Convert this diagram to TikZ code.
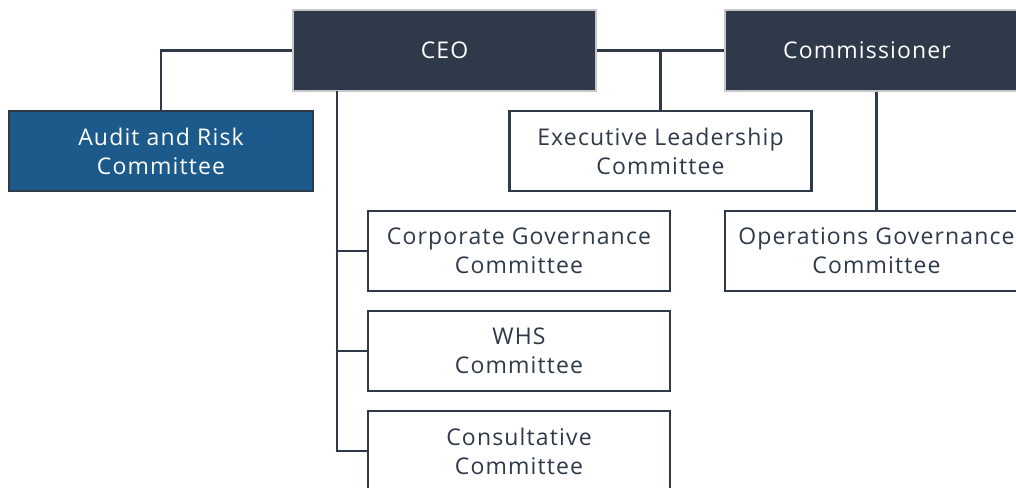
\documentclass[tikz,border=0pt]{standalone}
\usepackage{fontspec}
\setmainfont[LetterSpace=5]{Open Sans}
\definecolor{slate}{HTML}{2E3949}
\definecolor{steelblue}{HTML}{1C5A8C}
\definecolor{edgegrey}{HTML}{C6C6CB}
\begin{document}
\begin{tikzpicture}[x=1pt,y=-1pt,
  every node/.style={font=\fontsize{23}{29}\selectfont, align=center, inner sep=0pt},
  headbox/.style={fill=slate, draw=edgegrey, line width=2pt, text=white,
    minimum width=303pt, minimum height=80pt},
  bluebox/.style={fill=steelblue, draw=slate, line width=2.2pt, text=white,
    minimum width=304pt, minimum height=80pt},
  plainbox/.style={fill=white, draw=slate, line width=2.2pt, text=slate,
    minimum width=302pt, minimum height=80pt},
  link/.style={draw=slate, line width=2.2pt}]
\useasboundingbox (0,0) rectangle (1016,487);
\clip (0,0) rectangle (1016,487);

% top row
\node[headbox] (ceo) at (444.5,50.5) {CEO};
\node[headbox, label={[text=white, xshift=-9.5pt]center:Commissioner}] (comm) at (876.5,50.5) {};

% second row
\node[bluebox] (audit) at (161,151) {Audit and Risk\\Committee};
\node[plainbox] (exec) at (660.5,151) {Executive Leadership\\Committee};

% committees below the CEO
\node[plainbox] (corp) at (519,251) {Corporate Governance\\Committee};
\node[plainbox] (whs) at (519,351) {WHS\\Committee};
\node[plainbox] (cons) at (519,451) {Consultative\\Committee};

% committee below the Commissioner
\node[plainbox, minimum width=303pt] (ops) at (876.5,251) {Operations Governance\\Committee};

% connectors
\coordinate (spine) at (337,91);
\draw[link] (ceo.west) -| (audit.north);
\draw[link] (ceo.east) -- (comm.west);
\draw[link] (exec.north) -- (exec.north |- ceo.east);
\draw[link] (spine) |- (cons.west);
\draw[link] (spine |- corp.west) -- (corp.west);
\draw[link] (spine |- whs.west) -- (whs.west);
\draw[link] (comm.south -| ops.north) -- (ops.north);
\end{tikzpicture}
\end{document}
